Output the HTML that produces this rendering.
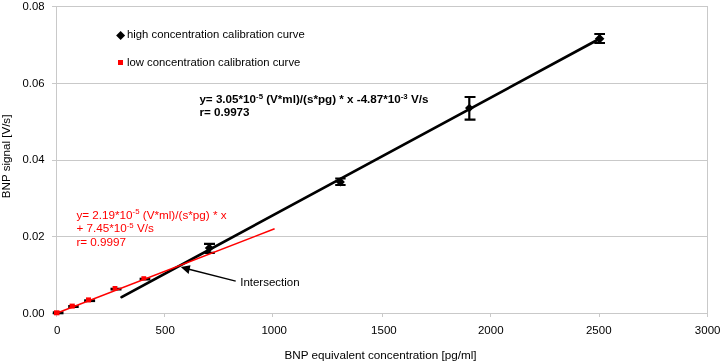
<!DOCTYPE html>
<html>
<head>
<meta charset="utf-8">
<style>
html,body{margin:0;padding:0;background:#fff;width:720px;height:363px;overflow:hidden}
svg{display:block;will-change:transform}
text{font-family:"Liberation Sans",sans-serif}
</style>
</head>
<body>
<svg width="720" height="363" viewBox="0 0 720 363">
<rect x="0" y="0" width="720" height="363" fill="#fff"/>
<!-- gridlines / frame -->
<g fill="#c9c9c9" shape-rendering="crispEdges">
<rect x="56" y="6" width="652" height="1"/>
<rect x="56" y="83" width="652" height="1"/>
<rect x="56" y="160" width="652" height="1"/>
<rect x="56" y="236" width="652" height="1"/>
<rect x="56" y="313" width="652" height="1"/>
<rect x="56" y="6" width="1" height="311"/>
<rect x="707" y="6" width="1" height="311"/>
<!-- y ticks -->
<rect x="52" y="6" width="4" height="1"/>
<rect x="52" y="83" width="4" height="1"/>
<rect x="52" y="160" width="4" height="1"/>
<rect x="52" y="236" width="4" height="1"/>
<rect x="52" y="313" width="4" height="1"/>
<!-- x ticks -->
<rect x="164" y="314" width="1" height="3"/>
<rect x="272" y="314" width="1" height="3"/>
<rect x="382" y="314" width="1" height="3"/>
<rect x="490" y="314" width="1" height="3"/>
<rect x="599" y="314" width="1" height="3"/>
</g>
<!-- y tick labels -->
<g font-size="11.3" text-anchor="end" fill="#000">
<text x="44.5" y="9.7">0.08</text>
<text x="44.5" y="86.5">0.06</text>
<text x="44.5" y="162.9">0.04</text>
<text x="44.5" y="239.6">0.02</text>
<text x="44.5" y="316.5">0.00</text>
</g>
<!-- x tick labels -->
<g font-size="11.5" text-anchor="middle" fill="#000">
<text x="57.2" y="333.9">0</text>
<text x="165.2" y="333.9">500</text>
<text x="274.2" y="333.9">1000</text>
<text x="383.9" y="333.9">1500</text>
<text x="490.75" y="333.9">2000</text>
<text x="598.75" y="333.9">2500</text>
<text x="707.65" y="333.9">3000</text>
</g>
<!-- axis titles -->
<text font-size="11.7" x="284.4" y="358.8" fill="#000">BNP equivalent concentration [pg/ml]</text>
<text font-size="11.6" text-anchor="middle" transform="translate(9.6,156.4) rotate(-90)" fill="#000">BNP signal [V/s]</text>

<!-- legend -->
<polygon points="120.6,31 125.1,35.4 120.6,39.9 116.1,35.4" fill="#000"/>
<text font-size="11.3" x="127" y="38" fill="#000">high concentration calibration curve</text>
<rect x="118" y="60" width="5" height="5" fill="#ff0000"/>
<text font-size="11.3" x="127" y="65.9" fill="#000">low concentration calibration curve</text>

<!-- black regression line -->
<line x1="121.6" y1="297.1" x2="599.6" y2="38.8" stroke="#000" stroke-width="2.75" stroke-linecap="round"/>

<!-- black error bars & markers -->
<g stroke="#000" stroke-width="2.2" fill="none">
<path d="M209.5,243.8V252.8M204,243.8H215M204.5,252.8H214.8"/>
<path d="M340.4,178.5V185M335.2,178.5H345.6M335.2,185H345.6"/>
<path d="M469.3,97V119.7M464.6,97H475.5M464.6,119.7H475.5"/>
<path d="M599.6,34V43M594.3,34H605M594.3,43H605"/>
</g>
<g fill="#000">
<polygon points="209.3,243.5 213.8,248 209.3,252.5 204.8,248"/>
<polygon points="340.4,177.5 344.9,182 340.4,186.5 335.9,182"/>
<polygon points="469.3,103.7 473.6,108 469.3,112.3 465,108"/>
<polygon points="599.6,33.9 604.4,38.7 599.6,43.5 594.8,38.7"/>
</g>

<!-- black bars under red markers -->
<g fill="#000">
<rect x="52.8" y="311.3" width="10.7" height="3"/>
<rect x="68.2" y="305" width="10.5" height="3"/>
<rect x="84.1" y="299.3" width="11" height="2.8"/>
<rect x="110.5" y="287.7" width="11" height="2.8"/>
<rect x="139.6" y="277.7" width="10.7" height="2.8"/>
</g>
<!-- red regression line -->
<line x1="56.5" y1="313.2" x2="274.6" y2="228.8" stroke="#ff0000" stroke-width="1.5"/>
<!-- red markers -->
<g fill="#ff0000">
<rect x="54" y="310.3" width="5.5" height="5"/>
<rect x="69.6" y="303.6" width="5.2" height="5"/>
<rect x="86" y="297.4" width="5" height="5"/>
<rect x="112.6" y="286" width="4.8" height="4.6"/>
<rect x="141.4" y="276.2" width="4.8" height="4.2"/>
</g>

<!-- high equation -->
<g font-size="11.65" font-weight="bold" fill="#000">
<text x="199.4" y="102.8">y= 3.05*10<tspan font-size="7.8" dy="-4.2">-5</tspan><tspan dy="4.2"> (V*ml)/(s*pg) * x -4.87*10</tspan><tspan font-size="7.8" dy="-4.2">-3</tspan><tspan dy="4.2"> V/s</tspan></text>
<text x="199.4" y="116.4">r= 0.9973</text>
</g>
<!-- low equation -->
<g font-size="11.7" fill="#ff0000">
<text x="76.4" y="218.6">y= 2.19*10<tspan font-size="7.8" dy="-4.2">-5</tspan><tspan dy="4.2"> (V*ml)/(s*pg) * x</tspan></text>
<text x="76.4" y="232.3">+ 7.45*10<tspan font-size="7.8" dy="-4.2">-5</tspan><tspan dy="4.2"> V/s</tspan></text>
<text x="76.4" y="246.3">r= 0.9997</text>
</g>

<!-- intersection arrow -->
<line x1="235.7" y1="281.2" x2="188" y2="269" stroke="#000" stroke-width="1.3"/>
<polygon points="180.8,267.1 190.5,265.2 188.6,274" fill="#000"/>
<text font-size="11.5" x="240.2" y="285.8" fill="#000">Intersection</text>
</svg>
</body>
</html>
